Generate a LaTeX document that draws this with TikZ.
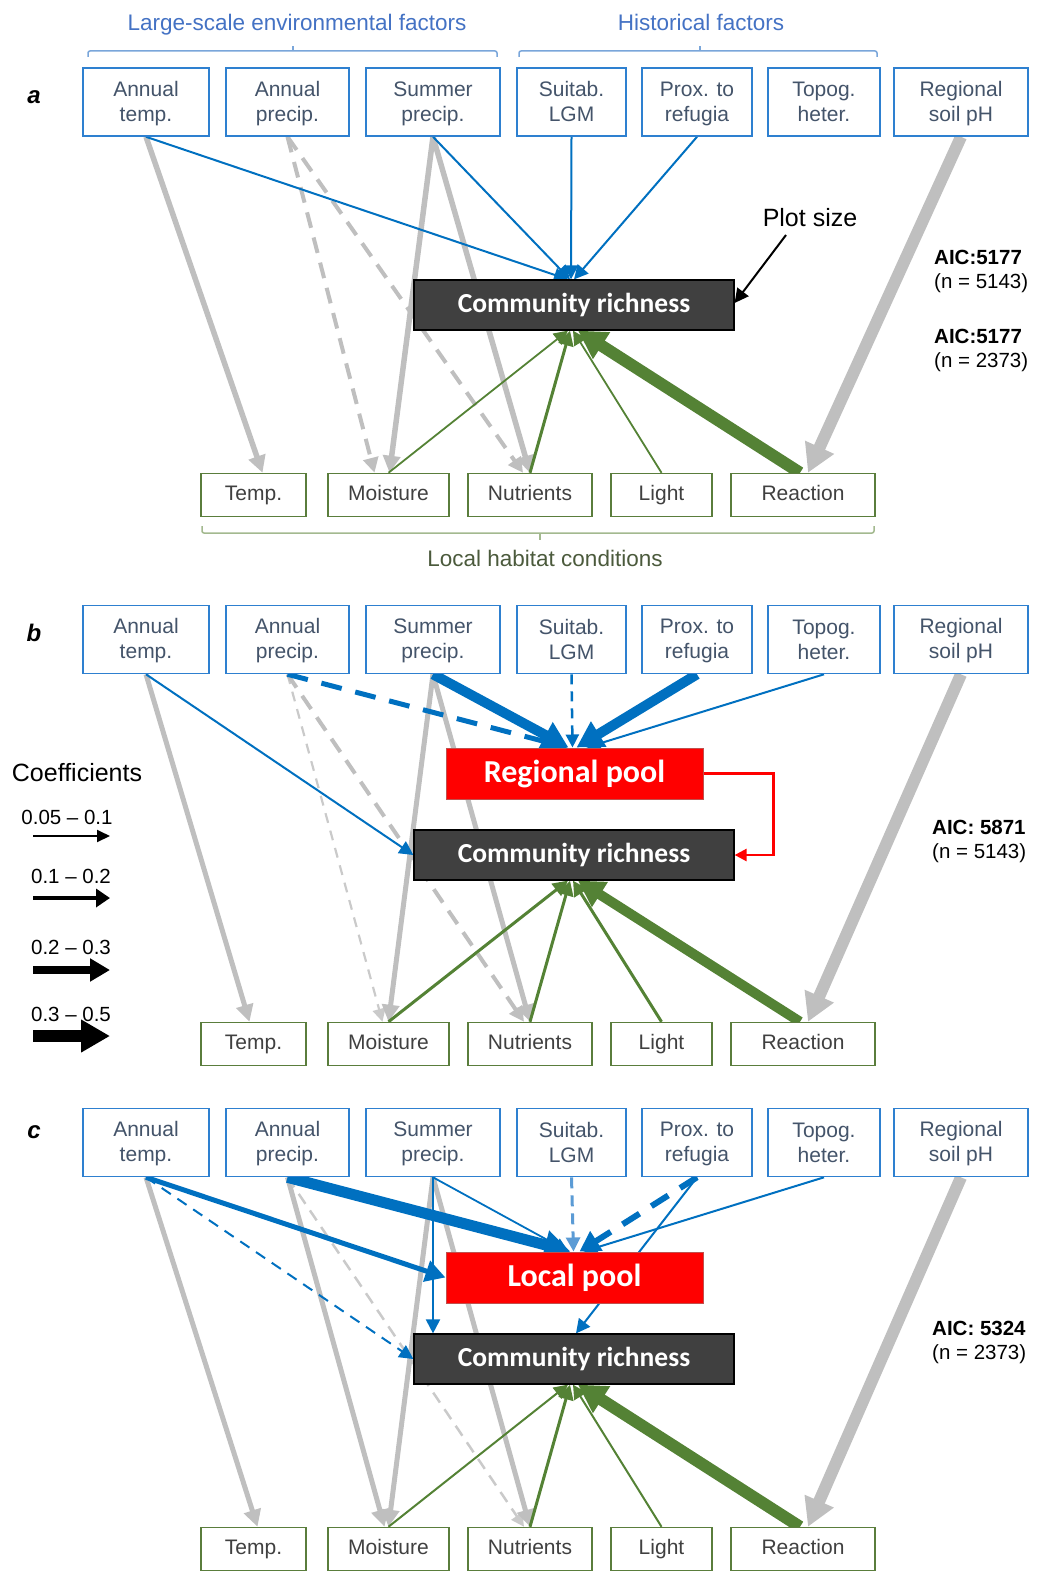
\documentclass[tikz,border=0pt]{standalone}
\usepackage{fontspec}
\setmainfont{Liberation Sans}
\newfontfamily\carl{Carlito}
\usetikzlibrary{arrows.meta}
\pgfdeclarelayer{bg}
\pgfsetlayers{bg,main}
\definecolor{arblue}{HTML}{0070C0}
\definecolor{ltblue}{HTML}{5B9BD5}
\definecolor{boxblue}{HTML}{2E80D0}
\definecolor{txtblue}{HTML}{44546A}
\definecolor{ttlblue}{HTML}{4472C4}
\definecolor{brblue}{HTML}{7AA6DA}
\definecolor{argray}{HTML}{BFBFBF}
\definecolor{ltgray}{HTML}{CACACA}
\definecolor{argreen}{HTML}{548235}
\definecolor{boxgreen}{HTML}{5A7D3C}
\definecolor{brgreen}{HTML}{A3B98F}
\definecolor{txtgreen}{HTML}{4B5A3C}
\definecolor{crgray}{HTML}{404040}
\definecolor{poolred}{HTML}{FF0000}
\definecolor{poolbord}{HTML}{C0504D}
\newcommand\topst{\rule{0pt}{17.5pt}}
\newcommand\botst{\rule[-2.5pt]{0pt}{2.5pt}}
\tikzset{
 topbox/.style={draw=boxblue,line width=1.6pt,fill=white,minimum height=68pt,inner sep=0pt,align=center,text=txtblue,font=\fontsize{21}{25}\selectfont},
 botbox/.style={draw=boxgreen,line width=1.5pt,fill=white,minimum height=43pt,inner sep=0pt,text height=15pt,text depth=4.5pt,text=black!75,font=\fontsize{21}{25}\selectfont},
 crbox/.style={draw=black,line width=1.2pt,fill=crgray,minimum width=320pt,minimum height=50pt,inner sep=0pt,text=white,font=\carl\bfseries\fontsize{27.5}{30}\selectfont},
 poolbox/.style={draw=poolbord,line width=1pt,fill=poolred,minimum width=257pt,minimum height=51pt,inner sep=0pt,text=white,font=\carl\bfseries\fontsize{32}{36}\selectfont},
 ttl/.style={text=ttlblue,font=\fontsize{22.5}{27}\selectfont,inner sep=0pt},
 panlab/.style={font=\bfseries\itshape\fontsize{24}{28}\selectfont,inner sep=0pt},
 aic/.style={anchor=west,align=left,inner sep=0pt,font=\fontsize{20.5}{24}\selectfont},
 legt/.style={inner sep=0pt,font=\fontsize{20.5}{24}\selectfont},
 tipsz/.style={-{Triangle[length=#1,width=#1]}},
 tipsw/.style 2 args={-{Triangle[length=#1,width=#2]}},
 bl/.style={draw=arblue},
 gr/.style={draw=argray},
 gn/.style={draw=argreen},
}
\newcommand\toprow[2]{%
\node[topbox,minimum width=126pt] (AT#1) at (146,#2) {\topst Annual\\temp.\botst};
\node[topbox,minimum width=123pt] (AP#1) at (287.5,#2) {\topst Annual\\precip.\botst};
\node[topbox,minimum width=134pt] (SP#1) at (433,#2) {\topst Summer\\precip.\botst};
\node[topbox,minimum width=109pt] (SL#1) at (571.5,#2) {\topst Suitab.\\LGM\botst};
\node[topbox,minimum width=110pt] (PR#1) at (697,#2) {\topst Prox. to\\refugia\botst};
\node[topbox,minimum width=112pt] (TH#1) at (824,#2) {\topst Topog.\\heter.\botst};
\node[topbox,minimum width=134pt] (RS#1) at (961,#2) {\topst Regional\\soil pH\botst};
}
\newcommand\botrow[2]{%
\node[botbox,minimum width=105pt] (BT#1) at (253.5,#2) {Temp.};
\node[botbox,minimum width=121pt] (BM#1) at (388.5,#2) {Moisture};
\node[botbox,minimum width=124pt] (BN#1) at (530,#2) {Nutrients};
\node[botbox,minimum width=101pt] (BL#1) at (661.5,#2) {Light};
\node[botbox,minimum width=144pt] (BR#1) at (803,#2) {Reaction};
}
\begin{document}
\begin{tikzpicture}[x=1pt,y=-1pt]
\useasboundingbox (0,0) rectangle (1040,1576);

% ---------- headings ----------
\node[ttl,anchor=base] (tl1) at (297,31) {Large-scale environmental factors};
\node[ttl,anchor=base] (tl2) at (701,31) {Historical factors};
\draw[brblue,line width=1.5pt,rounded corners=2pt] (88,57) -- (88,51) -- (497,51) -- (497,57);
\draw[brblue,line width=1.5pt] (293,51) -- (293,46);
\draw[brblue,line width=1.5pt,rounded corners=2pt] (519,57) -- (519,51) -- (877,51) -- (877,57);
\draw[brblue,line width=1.5pt] (700,51) -- (700,46);

% ---------- panel a ----------
\node[panlab] (la) at (34,97) {a};
\toprow{a}{102}
\botrow{a}{495}
\node[crbox] (CRa) at (574,305) {Community richness};
\draw[brgreen,line width=1.5pt,rounded corners=2pt] (202,526) -- (202,533) -- (874,533) -- (874,526);
\draw[brgreen,line width=1.5pt] (540,533) -- (540,540);
\node[ttl,text=txtgreen,anchor=base] (lhc) at (545,566) {Local habitat conditions};
\node[inner sep=0pt,font=\fontsize{25}{30}\selectfont] (plot) at (810,218) {Plot size};
\coordinate (plotst) at (786,235);
\draw[black,line width=2pt,tipsz=14pt] (plotst) -- ([yshift=2pt]CRa.east);
\node[aic] (aica1) at (934,271) {\textbf{AIC:5177}\\(n = 5143)};
\node[aic] (aica2) at (934,350) {\textbf{AIC:5177}\\(n = 2373)};

\begin{pgfonlayer}{bg}
\draw[gr,line width=5.5pt,tipsz=17pt] (ATa.south) -- ([xshift=9pt]BTa.north);
\draw[gr,line width=4pt,dash pattern=on 16pt off 10pt,tipsz=15pt] (APa.south) -- ([xshift=-14pt]BMa.north);
\draw[gr,line width=4pt,dash pattern=on 16pt off 10pt,tipsz=15pt] (APa.south) -- ([xshift=-7pt]BNa.north);
\draw[gr,line width=5.5pt,tipsz=17pt] (SPa.south) -- ([xshift=1pt]BMa.north);
\draw[gr,line width=5.5pt,tipsz=17pt] (SPa.south) -- (BNa.north);
\draw[gr,line width=12pt,tipsw={28pt}{30pt}] (RSa.south) -- ([xshift=5pt]BRa.north);
\draw[bl,line width=2pt,tipsz=14pt] (ATa.south) -- ([xshift=-6pt]CRa.north);
\draw[bl,line width=2pt,tipsz=14pt] (SPa.south) -- ([xshift=-4pt]CRa.north);
\draw[bl,line width=2pt,tipsz=14pt] (SLa.south) -- ([xshift=-3pt]CRa.north);
\draw[bl,line width=2pt,tipsz=14pt] (PRa.south) -- (CRa.north);
\draw[gn,line width=1.8pt,tipsz=14pt] (BMa.north) -- ([xshift=-6pt]CRa.south);
\draw[gn,line width=3pt,tipsz=15pt] (BNa.north) -- ([xshift=-4pt]CRa.south);
\draw[gn,line width=1.8pt,tipsz=14pt] (BLa.north) -- ([xshift=-1pt]CRa.south);
\draw[gn,line width=12pt,tipsw={28pt}{30pt}] ([xshift=-3pt]BRa.north) -- ([xshift=4pt]CRa.south);
\end{pgfonlayer}

% ---------- panel b ----------
\node[panlab] (lb) at (34,633) {b};
\toprow{b}{639.5}
\botrow{b}{1044}
\node[poolbox] (RPb) at (574.5,773.5) {Regional pool};
\node[crbox] (CRb) at (574,855) {Community richness};
\draw[poolred,line width=2.5pt,tipsz=12pt] (RPb.east) -- ++(70,0) |- (CRb.east);
\node[aic] (aicb) at (932,841) {\textbf{AIC: 5871}\\(n = 5143)};

\begin{pgfonlayer}{bg}
\draw[gr,line width=5pt,tipsz=17pt] (ATb.south) -- ([xshift=-4pt]BTb.north);
\draw[draw=ltgray,line width=2.2pt,dash pattern=on 10pt off 8pt,tipsz=13pt] (APb.south) -- ([xshift=-6pt]BMb.north);
\draw[gr,line width=4pt,dash pattern=on 16pt off 10pt,tipsz=15pt] (APb.south) -- ([xshift=-6pt]BNb.north);
\draw[gr,line width=5pt,tipsz=17pt] (SPb.south) -- (BMb.north);
\draw[gr,line width=5pt,tipsz=17pt] (SPb.south) -- (BNb.north);
\draw[gr,line width=12pt,tipsw={28pt}{30pt}] (RSb.south) -- ([xshift=5pt]BRb.north);
\draw[bl,line width=5pt,dash pattern=on 21pt off 14pt,tipsw={20pt}{22pt}] (APb.south) -- ([xshift=-7pt]RPb.north);
\draw[bl,line width=10pt,tipsw={26pt}{28pt}] (SPb.south) -- ([xshift=-6pt]RPb.north);
\draw[bl,line width=2.5pt,dash pattern=on 10pt off 7pt,tipsz=13pt] (SLb.south) -- ([xshift=-2pt]RPb.north);
\draw[bl,line width=10pt,tipsw={26pt}{28pt}] (PRb.south) -- ([xshift=2pt]RPb.north);
\draw[bl,line width=2pt,tipsz=14pt] (THb.south) -- ([xshift=12pt]RPb.north);
\draw[bl,line width=2pt,tipsz=14pt] (ATb.south) -- (CRb.west);
\draw[gn,line width=3pt,tipsz=15pt] (BMb.north) -- ([xshift=-6pt]CRb.south);
\draw[gn,line width=3pt,tipsz=15pt] (BNb.north) -- ([xshift=-4pt]CRb.south);
\draw[gn,line width=3pt,tipsz=15pt] (BLb.north) -- ([xshift=-1pt]CRb.south);
\draw[gn,line width=10pt,tipsw={26pt}{28pt}] ([xshift=-3pt]BRb.north) -- ([xshift=4pt]CRb.south);
\end{pgfonlayer}

% legend
\node[inner sep=0pt,font=\fontsize{25}{29}\selectfont] (coef) at (77,773) {Coefficients};
\node[legt] (lg1) at (67,817) {0.05 -- 0.1};
\node[legt] (lg2) at (71,876) {0.1 -- 0.2};
\node[legt] (lg3) at (71,947) {0.2 -- 0.3};
\node[legt] (lg4) at (71,1014) {0.3 -- 0.5};
\coordinate (g1s) at (33,836); \coordinate (g1e) at (110,836);
\coordinate (g2s) at (33,898); \coordinate (g2e) at (110,898);
\coordinate (g3s) at (33,970); \coordinate (g3e) at (110,970);
\coordinate (g4s) at (33,1036); \coordinate (g4e) at (110,1036);
\draw[black,line width=2pt,tipsw={13pt}{12pt}] (g1s) -- (g1e);
\draw[black,line width=4.5pt,tipsw={14pt}{18pt}] (g2s) -- (g2e);
\draw[black,line width=7.5pt,tipsw={20pt}{22pt}] (g3s) -- (g3e);
\draw[black,line width=11.5pt,tipsw={29pt}{31pt}] (g4s) -- (g4e);

% ---------- panel c ----------
\node[panlab] (lc) at (34,1132) {c};
\toprow{c}{1142.5}
\botrow{c}{1549}
\node[poolbox] (LPc) at (574.5,1277.5) {Local pool};
\node[crbox] (CRc) at (574,1359) {Community richness};
\node[aic] (aicc) at (932,1342) {\textbf{AIC: 5324}\\(n = 2373)};

\begin{pgfonlayer}{bg}
\draw[gr,line width=5pt,tipsz=17pt] (ATc.south) -- ([xshift=4pt]BTc.north);
\draw[gr,line width=5pt,tipsz=17pt] (APc.south) -- ([xshift=-4pt]BMc.north);
\draw[draw=ltgray,line width=2.5pt,dash pattern=on 12pt off 8pt,tipsz=13pt] (APc.south) -- ([xshift=-6pt]BNc.north);
\draw[gr,line width=5pt,tipsz=17pt] (SPc.south) -- (BMc.north);
\draw[gr,line width=5pt,tipsz=17pt] (SPc.south) -- (BNc.north);
\draw[gr,line width=12pt,tipsw={28pt}{30pt}] (RSc.south) -- ([xshift=5pt]BRc.north);
\draw[bl,line width=5pt,tipsw={20pt}{21pt}] (ATc.south) -- (LPc.west);
\draw[bl,line width=2pt,dash pattern=on 11pt off 8pt,tipsz=14pt] (ATc.south) -- (CRc.west);
\draw[bl,line width=11pt,tipsw={26pt}{28pt}] (APc.south) -- ([xshift=-4pt]LPc.north);
\draw[bl,line width=1.8pt,tipsz=14pt] (SPc.south) -- ([xshift=-6pt]LPc.north);
\draw[bl,line width=2pt,tipsz=14pt] (SPc.south) -- (SPc.south |- CRc.north);
\draw[draw=ltblue,line width=3pt,dash pattern=on 11pt off 7pt,tipsz=14pt] (SLc.south) -- ([xshift=-1pt]LPc.north);
\draw[bl,line width=6pt,dash pattern=on 20pt off 14pt,tipsw={20pt}{22pt}] (PRc.south) -- ([xshift=5pt]LPc.north);
\draw[bl,line width=2pt,tipsz=14pt] (PRc.south) -- ([xshift=2pt]CRc.north);
\draw[bl,line width=2pt,tipsz=14pt] (THc.south) -- ([xshift=9pt]LPc.north);
\draw[gn,line width=2pt,tipsz=14pt] (BMc.north) -- ([xshift=-6pt]CRc.south);
\draw[gn,line width=3pt,tipsz=15pt] (BNc.north) -- ([xshift=-4pt]CRc.south);
\draw[gn,line width=2pt,tipsz=14pt] (BLc.north) -- ([xshift=-1pt]CRc.south);
\draw[gn,line width=12pt,tipsw={28pt}{30pt}] ([xshift=-3pt]BRc.north) -- ([xshift=4pt]CRc.south);
\end{pgfonlayer}
\end{tikzpicture}
\end{document}
